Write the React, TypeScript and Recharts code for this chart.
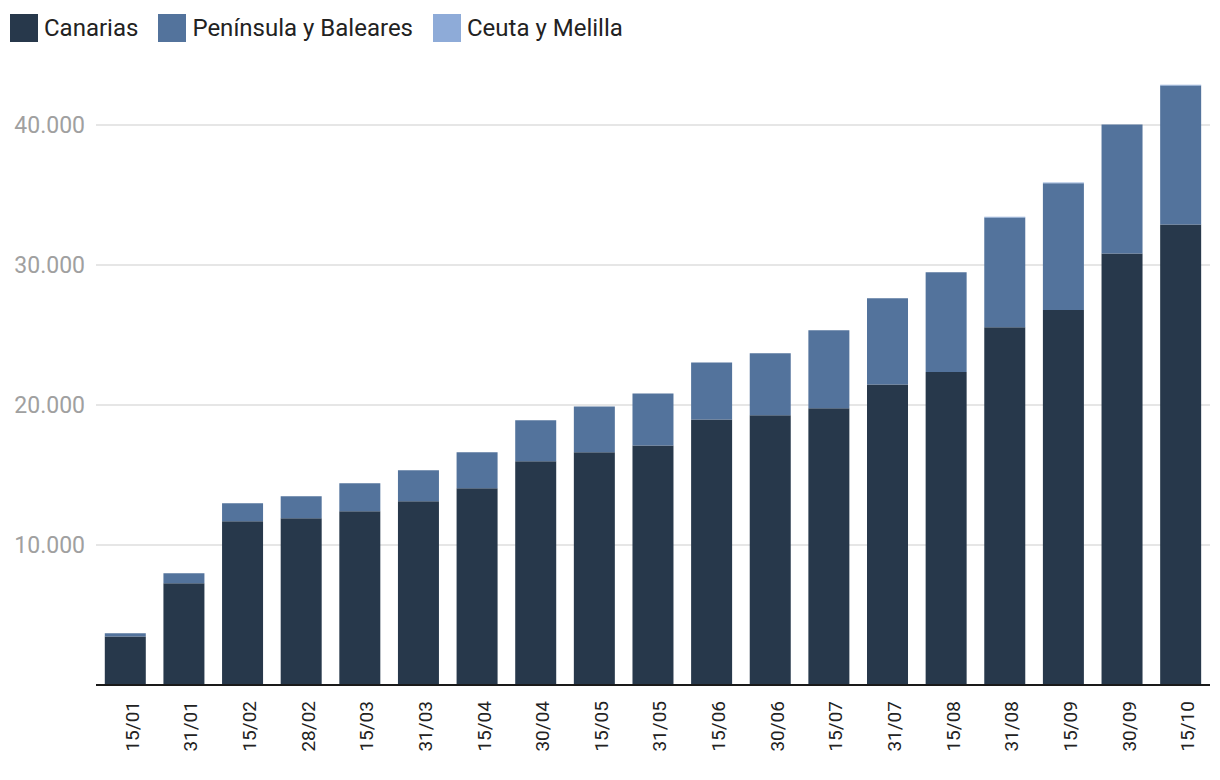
import React from "react";
import {
  BarChart,
  Bar,
  XAxis,
  YAxis,
  CartesianGrid,
  Legend,
} from "recharts";

const fechas = [
  "15/01", "31/01", "15/02", "28/02", "15/03", "31/03", "15/04", "30/04", "15/05", "31/05",
  "15/06", "30/06", "15/07", "31/07", "15/08", "31/08", "15/09", "30/09", "15/10",
];
const canarias = [
  3460, 7260, 11700, 11910, 12410, 13120, 14050, 15990, 16620, 17110,
  18970, 19270, 19760, 21470, 22350, 25550, 26780, 30820, 32890,
];
const peninsula = [
  230, 720, 1290, 1570, 2000, 2220, 2570, 2920, 3280, 3720,
  4070, 4430, 5580, 6150, 7130, 7850, 9060, 9210, 9940,
];
const ceutaMelilla = [
  0, 0, 0, 0, 0, 0, 0, 0, 0, 0,
  0, 0, 0, 0, 0, 50, 50, 0, 50,
];
const yTicks = [10000, 20000, 30000, 40000];

const series = [
  { key: "canarias", name: "Canarias", color: "#27384b" },
  { key: "peninsula", name: "Península y Baleares", color: "#53739c" },
  { key: "ceuta", name: "Ceuta y Melilla", color: "#8eabd8" },
];

const data = fechas.map((fecha, i) => ({
  fecha,
  canarias: canarias[i],
  peninsula: peninsula[i],
  ceuta: ceutaMelilla[i],
}));

const formatMiles = (v: number) =>
  String(v).replace(/\B(?=(\d{3})+(?!\d))/g, ".");

const renderLegend = () => (
  <div
    style={{
      display: "flex",
      alignItems: "center",
      height: 55,
      paddingLeft: 10,
      boxSizing: "border-box",
      fontFamily: "Roboto, sans-serif",
      fontSize: 24,
      color: "#222",
    }}
  >
    {series.map((s) => (
      <div key={s.key} style={{ display: "flex", alignItems: "center", marginRight: 20 }}>
        <span
          style={{
            display: "inline-block",
            width: 28,
            height: 28,
            background: s.color,
            marginRight: 6,
          }}
        />
        <span>{s.name}</span>
      </div>
    ))}
  </div>
);

export default function App() {
  return (
    <div style={{ position: "absolute", left: 0, top: 0 }}>
      <BarChart
        width={1220}
        height={780}
        data={data}
        margin={{ top: 0, right: 10, bottom: 0, left: 8 }}
        barCategoryGap="15%"
      >
        <Legend
          verticalAlign="top"
          align="left"
          content={renderLegend}
          wrapperStyle={{ left: 0, top: 0 }}
        />
        <CartesianGrid
          vertical={false}
          horizontalValues={yTicks}
          stroke="#e6e6e6"
          strokeWidth={2}
        />
        <XAxis
          dataKey="fecha"
          interval={0}
          height={95}
          tickLine={false}
          tickSize={0}
          tickMargin={16}
          angle={-90}
          textAnchor="end"
          axisLine={{ stroke: "#1a1a1a", strokeWidth: 2 }}
          tick={{ fill: "#222", fontSize: 19, fontFamily: "Roboto, sans-serif" }}
        />
        <YAxis
          width={88}
          domain={[0, 45000]}
          ticks={yTicks}
          tickFormatter={formatMiles}
          axisLine={false}
          tickLine={false}
          tickSize={0}
          tickMargin={11}
          tick={{ fill: "#a0a0a0", fontSize: 23, fontFamily: "Roboto, sans-serif" }}
        />
        {series.map((s) => (
          <Bar
            key={s.key}
            dataKey={s.key}
            name={s.name}
            stackId="a"
            fill={s.color}
            isAnimationActive={false}
          />
        ))}
      </BarChart>
    </div>
  );
}
